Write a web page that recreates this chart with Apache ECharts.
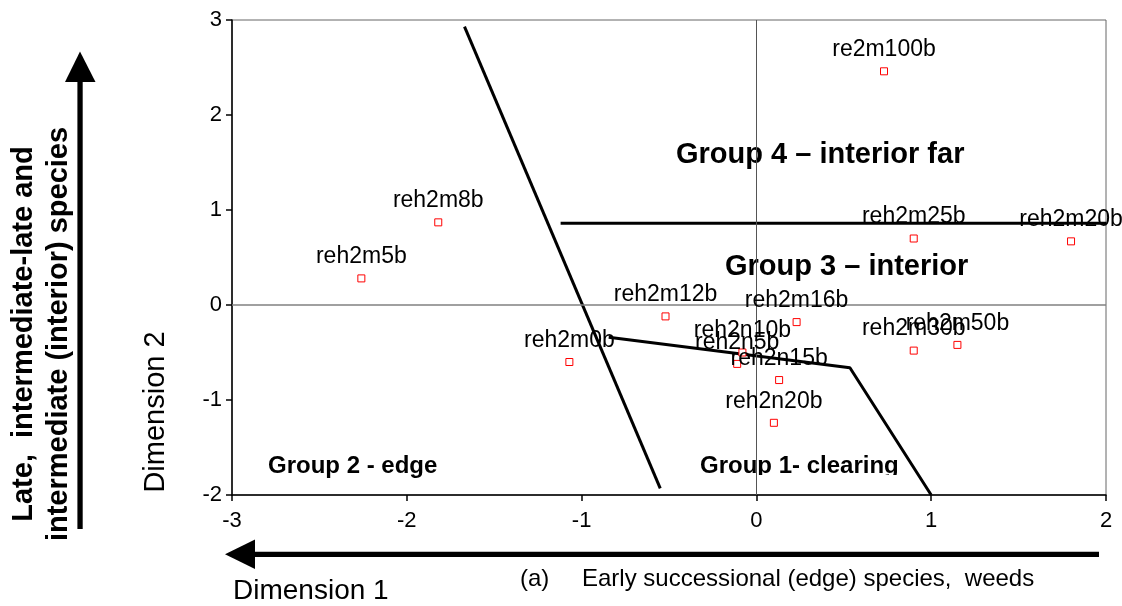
<!DOCTYPE html>
<html>
<head>
<meta charset="utf-8">
<title>Dimension 1 vs Dimension 2</title>
<script src="https://cdn.jsdelivr.net/npm/echarts@6/dist/echarts.min.js"></script>
<style>
  html, body { margin: 0; padding: 0; background: #fff; }
  #chart { width: 1122px; height: 606px; }
</style>
</head>
<body>
<div id="chart"></div>
<script>
// Sample plots and their ordination scores
const sampleNames = ['re2m100b', 'reh2m8b', 'reh2m5b', 'reh2m25b', 'reh2m20b', 'reh2m12b', 'reh2m16b',
                     'reh2m30b', 'reh2m50b', 'reh2n10b', 'reh2n5b', 'reh2m0b', 'reh2n15b', 'reh2n20b'];
const dim1 = [0.73, -1.82, -2.26, 0.90, 1.80, -0.52, 0.23, 0.90, 1.15, -0.08, -0.11, -1.07, 0.13, 0.10];
const dim2 = [2.46, 0.87, 0.28, 0.70, 0.67, -0.12, -0.18, -0.48, -0.42, -0.50, -0.62, -0.60, -0.79, -1.24];

// Group boundaries in ordination space
const boundaryEdge = [[-1.67, 2.93], [-0.55, -1.93]];
const boundaryInterior = [[-1.12, 0.86], [2.0, 0.86]];
const boundaryClearing = [[-0.845, -0.34], [0.535, -0.66], [1.0, -2.0]];

// Axis ranges
const xRange = [-3, 2];
const yRange = [-2, 3];

const FONT = '"Liberation Sans", Arial, sans-serif';

const points = sampleNames.map((n, i) => ({ name: n, value: [dim1[i], dim2[i]] }));

const boundaryStyle = { color: '#000', width: 3 };
function boundarySeries(data, extra) {
  return Object.assign({
    type: 'line',
    data: data,
    symbol: 'none',
    silent: true,
    z: 3,
    clip: false,
    lineStyle: boundaryStyle
  }, extra || {});
}

const chart = echarts.init(document.getElementById('chart'), null, { renderer: 'canvas' });

chart.setOption({
  animation: false,
  backgroundColor: '#fff',
  grid: {
    left: 232, right: 16, top: 20, bottom: 111,
    show: true, borderColor: '#666', borderWidth: 1, backgroundColor: 'transparent'
  },
  xAxis: {
    type: 'value', min: xRange[0], max: xRange[1], interval: 1,
    axisLine: { onZero: false, lineStyle: { color: '#000', width: 1.5 } },
    axisTick: { show: true, inside: false, length: 6, lineStyle: { color: '#000', width: 1.5 } },
    axisLabel: { fontFamily: FONT, fontSize: 22, color: '#000', margin: 15 },
    splitLine: { show: false }
  },
  yAxis: {
    type: 'value', min: yRange[0], max: yRange[1], interval: 1,
    axisLine: { show: true, onZero: false, lineStyle: { color: '#000', width: 1.5 } },
    axisTick: { show: true, inside: false, length: 6, lineStyle: { color: '#000', width: 1.5 } },
    axisLabel: { fontFamily: FONT, fontSize: 22, color: '#000', margin: 10 },
    splitLine: { show: false }
  },
  series: [
    boundarySeries(boundaryEdge, {
      markLine: {
        silent: true,
        symbol: 'none',
        label: { show: false },
        data: [
          { yAxis: 0, lineStyle: { color: '#808080', width: 1.5, type: 'solid' } },
          { xAxis: 0, lineStyle: { color: '#555', width: 1, type: 'solid' } }
        ]
      }
    }),
    boundarySeries(boundaryInterior),
    boundarySeries(boundaryClearing),
    {
      type: 'scatter',
      data: points,
      symbol: 'rect',
      symbolSize: 7,
      z: 5,
      itemStyle: { color: '#fff', borderColor: '#ff0000', borderWidth: 1, opacity: 1 },
      label: {
        show: true,
        position: 'top',
        distance: 6,
        formatter: p => p.name,
        fontFamily: FONT,
        fontSize: 23,
        color: '#000',
        opacity: 1
      }
    }
  ],
  graphic: [
    // group names inside the ordination plane
    { type: 'text', z: 1, x: 676, y: 155, style: { text: 'Group 4 – interior far', font: 'bold 29px ' + FONT, fill: '#000', align: 'left', verticalAlign: 'middle' } },
    { type: 'text', z: 1, x: 725, y: 267, style: { text: 'Group 3 – interior', font: 'bold 29px ' + FONT, fill: '#000', align: 'left', verticalAlign: 'middle' } },
    { type: 'text', z: 1, x: 268, y: 466, style: { text: 'Group 2 - edge', font: 'bold 24px ' + FONT, fill: '#000', align: 'left', verticalAlign: 'middle' } },
    { type: 'text', z: 1, x: 700, y: 466, style: { text: 'Group 1- clearing', font: 'bold 24px ' + FONT, fill: '#000', align: 'left', verticalAlign: 'middle' } },
    // trims the descenders of the clearing label
    { type: 'rect', z: 2, shape: { x: 697, y: 475, width: 203, height: 12 }, style: { fill: '#fff' } },

    // vertical gradient arrow and its captions
    { type: 'rect', z: 1, shape: { x: 77.4, y: 81, width: 5.3, height: 448 }, style: { fill: '#000' } },
    { type: 'polygon', z: 1, shape: { points: [[65, 82], [95.5, 82], [80, 51.5]] }, style: { fill: '#000' } },
    { type: 'text', z: 1, x: 41, y: 334, rotation: Math.PI / 2,
      style: { text: 'Late,  intermediate-late and\nintermediate (interior) species', font: 'bold 29px ' + FONT, lineHeight: 35, fill: '#000', align: 'center', verticalAlign: 'middle' } },
    { type: 'text', z: 1, x: 156, y: 412, rotation: Math.PI / 2,
      style: { text: 'Dimension 2', font: '29px ' + FONT, fill: '#000', align: 'center', verticalAlign: 'middle' } },

    // horizontal gradient arrow and its captions
    { type: 'rect', z: 1, shape: { x: 254, y: 551.7, width: 845, height: 5.3 }, style: { fill: '#000' } },
    { type: 'polygon', z: 1, shape: { points: [[225, 554.3], [255, 539.5], [255, 569]] }, style: { fill: '#000' } },
    { type: 'text', z: 1, x: 233, y: 591, style: { text: 'Dimension 1', font: '28px ' + FONT, fill: '#000', align: 'left', verticalAlign: 'middle' } },
    { type: 'text', z: 1, x: 520, y: 579, style: { text: '(a)', font: '24px ' + FONT, fill: '#000', align: 'left', verticalAlign: 'middle' } },
    { type: 'text', z: 1, x: 582, y: 579, style: { text: 'Early successional (edge) species,  weeds', font: '24px ' + FONT, fill: '#000', align: 'left', verticalAlign: 'middle' } }
  ]
});
</script>
</body>
</html>
